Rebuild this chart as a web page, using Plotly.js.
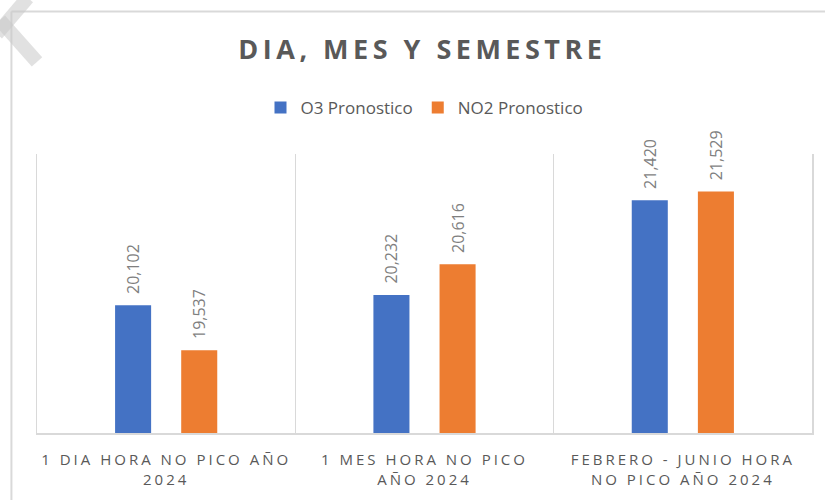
<!DOCTYPE html>
<html>
<head>
<meta charset="utf-8">
<script src="https://cdn.plot.ly/plotly-3.0.1.min.js"></script>
<style>
html,body{margin:0;padding:0;background:#fff;}
#chart{width:825px;height:500px;}
.xtick text{letter-spacing:3px;}
.gtitle{letter-spacing:4.5px;}
</style>
</head>
<body>
<div id="chart"></div>
<script>
const categories = [
  "1 DIA HORA NO PICO AÑO<br>2024",
  "1 MES HORA NO PICO<br>AÑO 2024",
  "FEBRERO - JUNIO HORA<br>NO PICO AÑO 2024"
];
const seriesNames = ["O3 Pronostico", "NO2 Pronostico"];
const o3Values = [20102, 20232, 21420];
const no2Values = [19537, 20616, 21529];
const colors = ["#4472C4", "#ED7D31"];

const labelFont = {family: "Open Sans, DejaVu Sans, sans-serif", size: 16, color: "#7f7f7f"};

function barTrace(name, vals, color) {
  return {
    type: "bar",
    name: name,
    x: categories,
    y: vals,
    marker: {color: color},
    texttemplate: "\u00a0\u00a0%{y:,.0f}",
    textposition: "outside",
    textangle: -90,
    constraintext: "none",
    textfont: labelFont,
    cliponaxis: false,
    hoverinfo: "skip"
  };
}

const data = [
  barTrace(seriesNames[0], o3Values, colors[0]),
  barTrace(seriesNames[1], no2Values, colors[1])
];

const layout = {
  width: 825,
  height: 500,
  margin: {l: 37, r: 13, t: 154, b: 67},
  paper_bgcolor: "#ffffff",
  plot_bgcolor: "#ffffff",
  title: {
    text: "<b>DIA, MES Y SEMESTRE</b>",
    font: {family: "Open Sans, DejaVu Sans, sans-serif", size: 27, color: "#595959"},
    x: 0.512, xanchor: "center",
    y: 0.9, yanchor: "middle", yref: "container"
  },
  showlegend: true,
  legend: {
    orientation: "h",
    x: 0.5, xanchor: "center",
    y: 1.165, yanchor: "middle",
    font: {family: "Open Sans, DejaVu Sans, sans-serif", size: 17, color: "#595959"},
    itemwidth: 30,
    traceorder: "normal"
  },
  barmode: "group",
  bargap: 0.488,
  bargroupgap: 0.455,
  xaxis: {
    type: "category",
    tickson: "boundaries",
    showgrid: true,
    gridcolor: "#d9d9d9",
    gridwidth: 1.5,
    showline: true,
    linecolor: "#d9d9d9",
    linewidth: 2,
    ticks: "",
    ticklabelstandoff: 12,
    tickfont: {family: "Open Sans, DejaVu Sans, sans-serif", size: 15, color: "#595959"},
    fixedrange: true
  },
  yaxis: {
    range: [18500, 22000],
    showgrid: false,
    zeroline: false,
    showticklabels: false,
    ticks: "",
    showline: true,
    mirror: true,
    linecolor: "#d9d9d9",
    linewidth: 1.5,
    fixedrange: true
  },
  shapes: [
    {type: "line", xref: "paper", yref: "paper", x0: -0.033, x1: 1.1, y0: 1.511, y1: 1.511,
     line: {color: "#d9d9d9", width: 2}, layer: "below"},
    {type: "line", xref: "paper", yref: "paper", x0: -0.033, x1: -0.033, y0: 1.511, y1: -0.4,
     line: {color: "#d9d9d9", width: 2}, layer: "below"},
    {type: "line", xref: "paper", yref: "paper", x0: -0.048, x1: 0.0, y0: 1.48, y1: 1.33,
     line: {color: "rgba(200,200,200,0.55)", width: 14}, layer: "below"},
    {type: "line", xref: "paper", yref: "paper", x0: -0.012, x1: -0.052, y0: 1.56, y1: 1.43,
     line: {color: "rgba(200,200,200,0.55)", width: 14}, layer: "below"}
  ]
};

Plotly.newPlot("chart", data, layout, {displayModeBar: false, staticPlot: true});
</script>
</body>
</html>
